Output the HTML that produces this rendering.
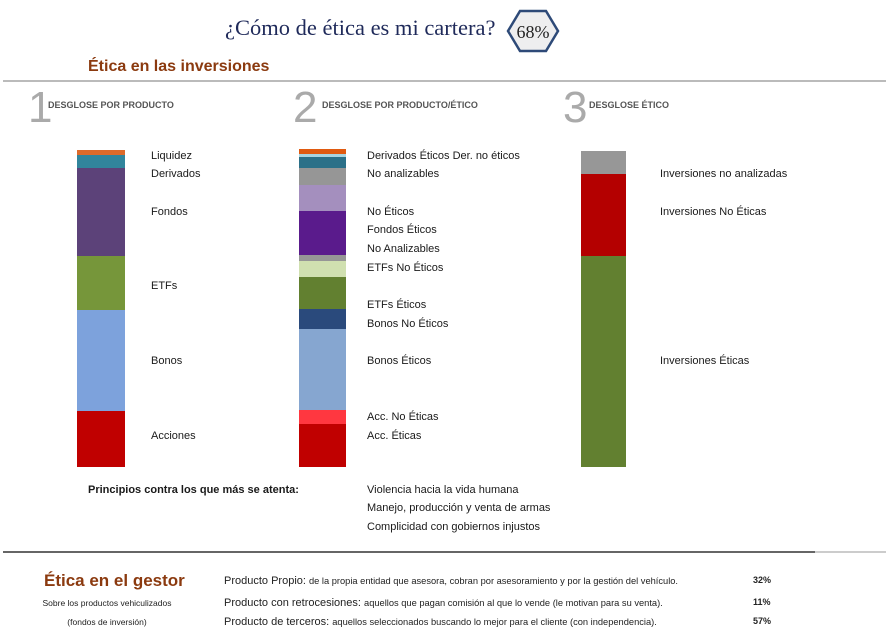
<!DOCTYPE html>
<html><head><meta charset="utf-8"><style>
body{margin:0;width:886px;height:640px;background:#fff;position:relative;overflow:hidden;font-family:"Liberation Sans",sans-serif;color:#222}
.a{position:absolute;white-space:nowrap}
.b{position:absolute}
.l{position:absolute;font-size:11px;line-height:12px;white-space:nowrap;transform:translateY(-6px);color:#1a1a1a}
.num{position:absolute;font-size:44px;color:#aaa;font-weight:300;line-height:44px}
.hd{position:absolute;font-size:9px;font-weight:bold;color:#555;white-space:nowrap}
.r{position:absolute;font-size:11px;white-space:nowrap;transform:translateY(-6px)}
.r small{font-size:9.3px}
</style></head><body>
<div class="a" style="left:225px;top:15px;font-family:'Liberation Serif',serif;font-size:22.5px;color:#1f2a5a">¿Cómo de ética es mi cartera?</div>
<svg class="b" style="left:505px;top:8px" width="56" height="46"><polygon points="3,23 15,3 41,3 53,23 41,43 15,43" fill="#eeeeef" stroke="#2e4a78" stroke-width="2.5"/><text x="28" y="30" text-anchor="middle" font-family="Liberation Serif,serif" font-size="18" fill="#222">68%</text></svg>
<div class="a" style="left:88px;top:58px;font-size:16px;font-weight:bold;color:#8b3a0f">Ética en las inversiones</div>
<div class="b" style="left:3px;top:80px;width:883px;height:2px;background:#bbb"></div>

<div class="num" style="left:28px;top:86px">1</div><div class="hd" style="left:48px;top:100px">DESGLOSE POR PRODUCTO</div>
<div class="num" style="left:293px;top:86px">2</div><div class="hd" style="left:322px;top:100px">DESGLOSE POR PRODUCTO/ÉTICO</div>
<div class="num" style="left:563px;top:86px">3</div><div class="hd" style="left:589px;top:100px">DESGLOSE ÉTICO</div>

<div class="b" style="left:77px;top:150px;width:48px">
<div style="height:5px;background:#dd6a2a"></div><div style="height:13px;background:#31859c"></div><div style="height:88px;background:#5c4279"></div><div style="height:54px;background:#76963a"></div><div style="height:101px;background:#7da2dc"></div><div style="height:56px;background:#c00000"></div></div>
<div class="l" style="left:151px;top:156px">Liquidez</div>
<div class="l" style="left:151px;top:174px">Derivados</div>
<div class="l" style="left:151px;top:212px">Fondos</div>
<div class="l" style="left:151px;top:286px">ETFs</div>
<div class="l" style="left:151px;top:361px">Bonos</div>
<div class="l" style="left:151px;top:436px">Acciones</div>

<div class="b" style="left:299px;top:149px;width:47px">
<div style="height:5px;background:#e05a10"></div><div style="height:3px;background:#a8d4e0"></div><div style="height:11px;background:#2b7088"></div><div style="height:17px;background:#969696"></div><div style="height:26px;background:#a48fbe"></div><div style="height:44px;background:#5a1b8c"></div><div style="height:6px;background:#969696"></div><div style="height:16px;background:#d0e0b0"></div><div style="height:32px;background:#628030"></div><div style="height:20px;background:#2a4a7c"></div><div style="height:81px;background:#86a6d0"></div><div style="height:14px;background:#ff3740"></div><div style="height:43px;background:#c00000"></div></div>
<div class="l" style="left:367px;top:156px">Derivados Éticos Der. no éticos</div>
<div class="l" style="left:367px;top:174px">No analizables</div>
<div class="l" style="left:367px;top:212px">No Éticos</div>
<div class="l" style="left:367px;top:230px">Fondos Éticos</div>
<div class="l" style="left:367px;top:249px">No Analizables</div>
<div class="l" style="left:367px;top:268px">ETFs No Éticos</div>
<div class="l" style="left:367px;top:305px">ETFs Éticos</div>
<div class="l" style="left:367px;top:324px">Bonos No Éticos</div>
<div class="l" style="left:367px;top:361px">Bonos Éticos</div>
<div class="l" style="left:367px;top:417px">Acc. No Éticas</div>
<div class="l" style="left:367px;top:436px">Acc. Éticas</div>

<div class="b" style="left:581px;top:151px;width:45px">
<div style="height:23px;background:#979797"></div><div style="height:82px;background:#b40000"></div><div style="height:211px;background:#628030"></div></div>
<div class="l" style="left:660px;top:174px">Inversiones no analizadas</div>
<div class="l" style="left:660px;top:212px">Inversiones No Éticas</div>
<div class="l" style="left:660px;top:361px">Inversiones Éticas</div>

<div class="l" style="left:88px;top:490px;font-weight:bold">Principios contra los que más se atenta:</div>
<div class="l" style="left:367px;top:490px">Violencia hacia la vida humana</div>
<div class="l" style="left:367px;top:508px">Manejo, producción y venta de armas</div>
<div class="l" style="left:367px;top:527px">Complicidad con gobiernos injustos</div>

<div class="b" style="left:3px;top:551px;width:812px;height:2px;background:#666"></div>
<div class="b" style="left:815px;top:551px;width:71px;height:2px;background:#ccc"></div>

<div class="a" style="left:44px;top:571px;font-size:17px;font-weight:bold;color:#8b3a0f">Ética en el gestor</div>
<div class="a" style="left:40px;top:598px;width:134px;text-align:center;font-size:8.5px">Sobre los productos vehiculizados</div>
<div class="a" style="left:40px;top:617px;width:134px;text-align:center;font-size:8.5px">(fondos de inversión)</div>
<div class="r" style="left:224px;top:581px">Producto Propio: <small>de la propia entidad que asesora, cobran por asesoramiento y por la gestión del vehículo.</small></div>
<div class="r" style="left:224px;top:603px">Producto con retrocesiones: <small>aquellos que pagan comisión al que lo vende (le motivan para su venta).</small></div>
<div class="r" style="left:224px;top:622px">Producto de terceros: <small>aquellos seleccionados buscando lo mejor para el cliente (con independencia).</small></div>
<div class="r" style="left:753px;top:581px;font-size:9px;font-weight:bold">32%</div>
<div class="r" style="left:753px;top:603px;font-size:9px;font-weight:bold">11%</div>
<div class="r" style="left:753px;top:622px;font-size:9px;font-weight:bold">57%</div>
</body></html>
